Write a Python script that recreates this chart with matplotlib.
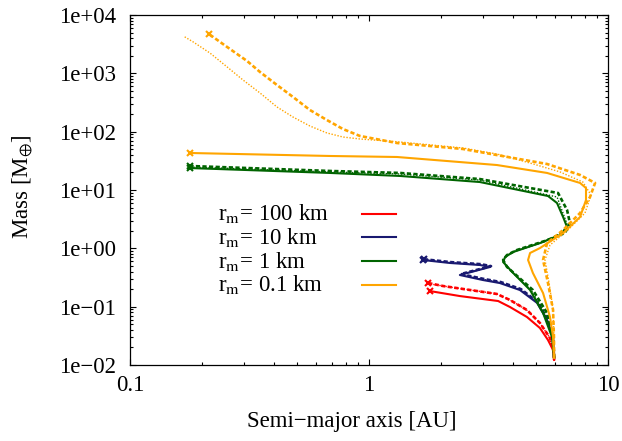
import matplotlib
matplotlib.use("Agg")
import matplotlib.pyplot as plt
from matplotlib.ticker import LogLocator, FixedLocator, NullFormatter

plt.rcParams['font.family'] = ['Liberation Serif', 'DejaVu Serif']
plt.rcParams['mathtext.fontset'] = 'stix'

# growth tracks: semi-major axis [AU] and mass [M_earth]
# r_m = 100 km
a_red_solid = [5.95, 5.89, 5.61, 5.19, 4.58, 3.89, 3.47, 2.40, 1.80]
m_red_solid = [0.0122, 0.0181, 0.0268, 0.0431, 0.0665, 0.0986, 0.125, 0.152, 0.185]
a_red_dash = [5.95, 5.94, 5.72, 5.19, 4.58, 3.89, 3.43, 2.04, 1.77]
m_red_dash = [0.0122, 0.0160, 0.0290, 0.0525, 0.0877, 0.130, 0.165, 0.226, 0.254]
a_red_dot = [5.95, 5.93, 5.70, 5.17, 4.55, 3.86, 3.40, 2.10, 1.75]
m_red_dot = [0.0122, 0.0163, 0.0295, 0.0535, 0.0890, 0.132, 0.167, 0.222, 0.250]

# r_m = 10 km
a_blue_solid = [5.95, 5.89, 5.56, 5.05, 4.28, 3.53, 3.00, 2.40, 3.21, 2.91, 2.18, 1.68]
m_blue_solid = [0.0132, 0.0302, 0.0590, 0.116, 0.193, 0.254, 0.286, 0.349, 0.479, 0.518, 0.561, 0.631]
a_blue_dash = [5.95, 5.90, 5.58, 5.08, 4.32, 3.56, 3.03, 2.42, 3.24, 2.94, 2.20, 1.70]
m_blue_dash = [0.0132, 0.0310, 0.0610, 0.120, 0.200, 0.264, 0.298, 0.362, 0.495, 0.535, 0.580, 0.650]
a_blue_dot = [5.95, 5.90, 5.57, 5.06, 4.30, 3.55, 3.02, 2.41, 3.22, 2.92, 2.19, 1.69]
m_blue_dot = [0.0132, 0.0306, 0.0600, 0.118, 0.197, 0.259, 0.292, 0.356, 0.487, 0.527, 0.570, 0.640]

# r_m = 1 km
a_green_solid = [5.95, 5.83, 5.35, 4.72, 4.01, 3.64, 3.71, 4.01, 5.19, 6.30, 6.74, 6.49,
                 6.12, 5.61, 2.91, 1.35, 0.687, 0.178]
m_green_solid = [0.0132, 0.0302, 0.0778, 0.193, 0.378, 0.583, 0.710, 0.865, 1.23, 1.69, 2.32, 3.44,
                 5.98, 7.89, 13.7, 17.4, 19.6, 23.8]
a_green_dash = [5.95, 5.89, 5.56, 4.85, 3.78, 3.64, 3.78, 4.16, 5.45, 6.61, 6.93, 6.74,
                6.18, 2.91, 1.35, 0.687, 0.178]
m_green_dash = [0.0132, 0.0302, 0.0778, 0.193, 0.479, 0.631, 0.768, 0.936, 1.34, 1.83, 2.72, 4.54,
                8.88, 15.4, 19.6, 21.2, 25.8]
a_green_dot = [5.95, 5.83, 5.45, 4.76, 3.89, 3.64, 3.74, 4.08, 5.35, 6.49, 6.74,
               6.12, 2.91, 1.35, 0.687, 0.178]
m_green_dot = [0.0132, 0.0302, 0.0778, 0.193, 0.425, 0.607, 0.738, 0.900, 1.28, 1.91, 2.61,
               7.59, 14.8, 18.8, 20.4, 24.8]

# r_m = 0.1 km
a_orange_solid = [5.95, 5.89, 5.72, 5.35, 4.85, 4.63, 4.72, 5.19, 6.49, 7.64, 8.09, 8.09,
                  7.64, 5.56, 3.43, 1.31, 0.687, 0.178]
m_orange_solid = [0.0132, 0.0302, 0.0665, 0.171, 0.378, 0.631, 0.832, 1.01, 1.83, 3.44, 6.74, 10.8,
                  13.2, 19.6, 26.8, 36.8, 38.3, 43.1]
a_orange_dash = [5.95, 5.94, 5.89, 5.61, 5.35, 5.56, 6.49, 7.64, 8.41, 8.83, 7.64, 5.56, 2.91,
                 2.47, 1.31, 0.916, 0.778, 0.667, 0.566, 0.481, 0.412, 0.350, 0.309,
                 0.255, 0.214]
m_orange_dash = [0.0132, 0.0302, 0.0877, 0.254, 0.631, 1.23, 2.06, 4.03, 7.59, 13.2, 18.1, 27.9, 44.8,
                 50.5, 63.9, 84.4, 111, 158, 235, 393, 631, 1054, 1626,
                 2825, 4720]
a_orange_dot = [5.95, 5.94, 5.89, 5.67, 5.45, 5.72, 6.80, 8.01, 8.49, 7.85, 6.30, 4.72, 3.43,
                2.47, 1.35, 0.916, 0.778, 0.667, 0.566, 0.481, 0.412, 0.350, 0.297, 0.255,
                0.216, 0.184, 0.167]
m_orange_dot = [0.0132, 0.0302, 0.0877, 0.254, 0.631, 1.14, 2.06, 4.03, 8.20, 13.7, 20.4, 29.0, 41.4,
                52.5, 66.5, 74.9, 81.0, 94.9, 125, 178, 265, 460, 769, 1285,
                2230, 3445, 4365]

labels = [r'r$_{\rm m}$= 100 km', r'r$_{\rm m}$= 10 km', r'r$_{\rm m}$= 1 km', r'r$_{\rm m}$= 0.1 km']
colors = ['#ff0000', '#191970', '#006400', '#ffa500']
y_ticks = [1e-2, 1e-1, 1e0, 1e1, 1e2, 1e3, 1e4]
y_ticklabels = ['1e\u221202', '1e\u221201', '1e+00', '1e+01', '1e+02', '1e+03', '1e+04']
x_ticks = [0.1, 1, 10]
x_ticklabels = ['0.1', '1', '10']

fig = plt.figure(figsize=(6.22, 4.41), dpi=100)
ax = fig.add_axes([130 / 622, 1 - 365 / 441, 478 / 622, 350 / 441])

tracks = [
    (a_red_solid, m_red_solid, a_red_dash, m_red_dash, a_red_dot, m_red_dot),
    (a_blue_solid, m_blue_solid, a_blue_dash, m_blue_dash, a_blue_dot, m_blue_dot),
    (a_green_solid, m_green_solid, a_green_dash, m_green_dash, a_green_dot, m_green_dot),
    (a_orange_solid, m_orange_solid, a_orange_dash, m_orange_dash, a_orange_dot, m_orange_dot),
]

for (a1, m1, a2, m2, a3, m3), col in zip(tracks, colors):
    ax.plot(a3, m3, color=col, lw=1.0, ls=(0, (1, 1.2)))
    ax.plot(a2, m2, color=col, lw=1.9, ls=(0, (1.6, 0.9)))
    ax.plot(a1, m1, color=col, lw=1.5)
    # end markers where the points bunch up
    ax.plot(a1[-1:], m1[-1:], color=col, marker='x', ms=4, mew=1.5, ls='none')
    ax.plot(a2[-1:], m2[-1:], color=col, marker='x', ms=4, mew=1.5, ls='none')

ax.set_xscale('log')
ax.set_yscale('log')
ax.set_xlim(0.1, 10)
ax.set_ylim(1e-2, 1e4)

ax.yaxis.set_major_locator(FixedLocator(y_ticks))
ax.set_yticklabels(y_ticklabels)
ax.xaxis.set_major_locator(FixedLocator(x_ticks))
ax.set_xticklabels(x_ticklabels)
for axis in (ax.xaxis, ax.yaxis):
    axis.set_minor_locator(LogLocator(base=10, subs=range(2, 10), numticks=20))
    axis.set_minor_formatter(NullFormatter())

ax.tick_params(which='both', direction='in', top=True, right=True, width=0.8, labelsize=16.5)
ax.tick_params(which='major', length=4)
ax.tick_params(which='minor', length=2.2)
ax.tick_params(axis='y', pad=10)
ax.tick_params(axis='x', pad=7)
for sp in ax.spines.values():
    sp.set_linewidth(0.9)

ax.set_xlabel('Semi\u2212major axis [AU]', fontsize=16.5)
ax.xaxis.set_label_coords((352 - 130) / 478, -(422 - 365) / 350)
ax.xaxis.label.set_va('center')
ax.set_ylabel(r'Mass [M$_{\oplus}$]', fontsize=16.5)
ax.yaxis.set_label_coords((22 - 130) / 478, (365 - 187) / 350)
ax.yaxis.label.set_va('center')

# key: left-aligned text, short line sample to the right (gnuplot style)
for i, (lab, col) in enumerate(zip(labels, colors)):
    y_line = (365 - (213.5 + i * 23.8)) / 350
    y_text = (365 - (220 + i * 23.8)) / 350
    ax.text((218 - 130) / 478, y_text, lab, transform=ax.transAxes,
            fontsize=16.5, ha='left', va='baseline')
    ax.plot([(362 - 130) / 478, (396 - 130) / 478], [y_line, y_line],
            color=col, lw=1.5, transform=ax.transAxes)

fig.savefig('out.png', dpi=100)
